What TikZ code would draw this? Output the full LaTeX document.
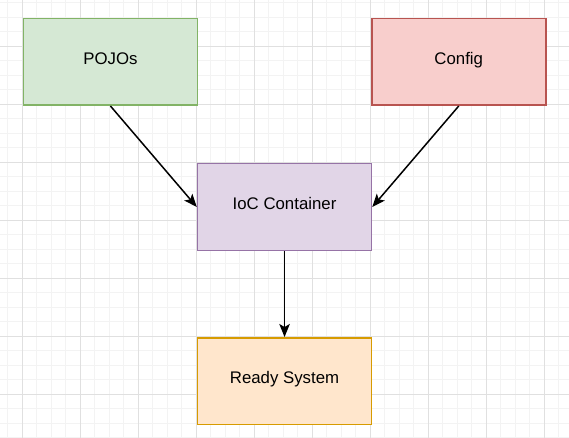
\documentclass[tikz,border=0pt]{standalone}
\usepackage{fontspec}
\setmainfont{Liberation Sans}
\usetikzlibrary{arrows.meta}
\definecolor{gminor}{HTML}{F3F3F3}
\definecolor{gmajor}{HTML}{E0E0E0}
\definecolor{gfill}{HTML}{D5E8D4}\definecolor{gline}{HTML}{82B366}
\definecolor{rfill}{HTML}{F8CECC}\definecolor{rline}{HTML}{B85450}
\definecolor{pfill}{HTML}{E1D5E7}\definecolor{pline}{HTML}{9673A6}
\definecolor{ofill}{HTML}{FFE6CC}\definecolor{oline}{HTML}{D79B00}
\tikzset{
  boxnode/.style={draw, line width=1.5pt, minimum width=174pt, minimum height=86.5pt, inner sep=0pt, text height=12pt, text depth=7pt, font=\fontsize{16.8}{20}\selectfont, anchor=north west},
  conn/.style={line width=1.5pt, -{Stealth[length=13pt, width=10.5pt, inset=3pt]}}
}
\begin{document}
\begin{tikzpicture}[x=1pt,y=-1pt]
\useasboundingbox (0,0) rectangle (569,438);
\fill[white] (0,0) rectangle (569,438);
\foreach \i in {0,...,39} {
  \draw[gminor, line width=0.9pt] ({7.8+14.5*\i},0) -- ({7.8+14.5*\i},438);
}
\foreach \i in {0,...,30} {
  \draw[gminor, line width=0.9pt] (0,{2.8+14.5*\i}) -- (569,{2.8+14.5*\i});
}
\foreach \i in {0,...,9} {
  \draw[gmajor, line width=0.9pt] ({22.3+58*\i},0) -- ({22.3+58*\i},438);
}
\foreach \i in {0,...,7} {
  \draw[gmajor, line width=0.9pt] (0,{46.3+58*\i}) -- (569,{46.3+58*\i});
}
\node[boxnode, fill=gfill, draw=gline] (pojo) at (22.7,18) {POJOs};
\node[boxnode, fill=rfill, draw=rline] (config) at (371,18) {Config};
\node[boxnode, fill=pfill, draw=pline] (ioc) at (196.8,163) {IoC Container};
\node[boxnode, fill=ofill, draw=oline] (ready) at (196.8,337) {Ready System};
\draw[conn] (pojo.south) -- (ioc.west);
\draw[conn] (config.south) -- (ioc.east);
\draw[conn] (ioc.south) -- (ready.north);
\end{tikzpicture}
\end{document}
